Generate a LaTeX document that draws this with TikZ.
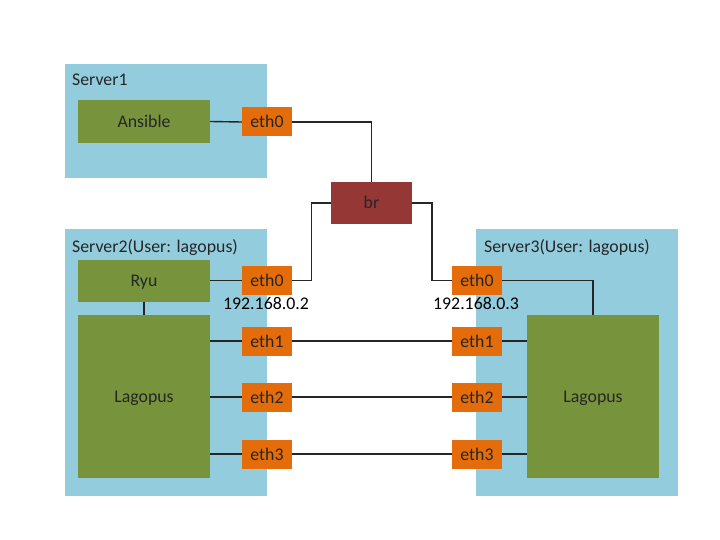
\documentclass[tikz,border=0pt]{standalone}
\usepackage{fontspec}
\setmainfont{Carlito}
\usepackage{xcolor}
\usetikzlibrary{calc}
\usetikzlibrary{positioning}

\definecolor{serverblue}{HTML}{93CDDD}
\definecolor{procgreen}{HTML}{77933C}
\definecolor{portorange}{HTML}{E46C0A}
\definecolor{bridgered}{HTML}{953735}
\definecolor{wire}{HTML}{262626}

\begin{document}
\begin{tikzpicture}[x=1pt,y=-1pt,font=\fontsize{17.8}{21}\selectfont]
% 1 = 1 pixel of the reference, y going down
    \def\PW{50pt} %width of ports
    \def\PH{29pt} %height of ports
    \def\XLEFT{267}  % x of the ports of Server2
    \def\XRIGHT{477} % x of the ports of Server3

    \tikzset{
      boxtext/.style={inner sep=0pt,text=black!85,text height=12pt,text depth=0pt},
      serverbox/.style={fill=serverblue,inner sep=0pt},
      procbox/.style={fill=procgreen,boxtext},
      portbox/.style={fill=portorange,boxtext,minimum width=\PW,
        minimum height=\PH},
      bridgebox/.style={fill=bridgered,boxtext,minimum width=81pt,
        minimum height=42pt},
      servertitle/.style={anchor=base west,inner sep=0pt,text=black!85},
      iplabel/.style={anchor=base,inner sep=0pt,text=black},
      wire/.style={draw=wire,line width=1.4pt},
    }

    \useasboundingbox (0,0) rectangle (720,540);

    % SERVERS
    \node[serverbox,minimum width=202pt,minimum height=114pt] (srvone) at (166,121) {};
    \node[serverbox,minimum width=202pt,minimum height=267pt] (srvtwo) at (166,362.5) {};
    \node[serverbox,minimum width=202pt,minimum height=267pt] (srvthree) at (577,362.5) {};
    \node[servertitle] (srvonetitle) at (72,86) {Server1};
    \node[servertitle] (srvtwotitle) at (72,252) {Server2(User: lagopus)};
    \node[servertitle] (srvthreetitle) at (484,252) {Server3(User: lagopus)};

    % PROCESSES
    \node[procbox,minimum width=132pt,minimum height=43pt] (ansible) at (144,121.5) {Ansible};
    \node[procbox,minimum width=132pt,minimum height=42pt] (ryu) at (144,280.5) {Ryu};
    \node[procbox,minimum width=132pt,minimum height=163pt] (lagleft) at (144,396.5) {Lagopus};
    \node[procbox,minimum width=132pt,minimum height=163pt] (lagright) at (593,396.5) {Lagopus};

    % BRIDGE AND FIRST PORTS
    \node[bridgebox] (br) at (371.5,203) {br};
    \node[portbox] (srvoneeth) at (267,122) {eth0};
    \node[portbox] (lefteth0) at (\XLEFT,280.5) {eth0};
    \node[portbox] (righteth0) at (\XRIGHT,280.5) {eth0};
    \node[iplabel] (leftip) at (266,309) {192.168.0.2};
    \node[iplabel] (rightip) at (476,309) {192.168.0.3};

    % MANAGEMENT WIRES
    \draw[wire] (ansible.east) -- (srvoneeth.west);
    \draw[wire] (srvoneeth.east) -| (br.north);
    \draw[wire] (br.west) -| ([xshift=19pt]lefteth0.east) -- (lefteth0.east);
    \draw[wire] (br.east) -| ([xshift=-20pt]righteth0.west) -- (righteth0.west);
    \draw[wire] (ryu.east) -- (lefteth0.west);
    \draw[wire] (ryu.south) -- (lagleft.north);
    \draw[wire] (righteth0.east) -| (lagright.north);

    % DATA PORTS AND WIRES
    \foreach \n/\y in {1/341,2/397,3/454}{
      \node[portbox] (lefteth\n) at (\XLEFT,\y) {eth\n};
      \node[portbox] (righteth\n) at (\XRIGHT,\y) {eth\n};
      \draw[wire] (lagleft.east |- lefteth\n) -- (lefteth\n.west);
      \draw[wire] (lefteth\n.east) -- (righteth\n.west);
      \draw[wire] (righteth\n.east) -- (lagright.west |- righteth\n);
    }

\end{tikzpicture}
\end{document}
